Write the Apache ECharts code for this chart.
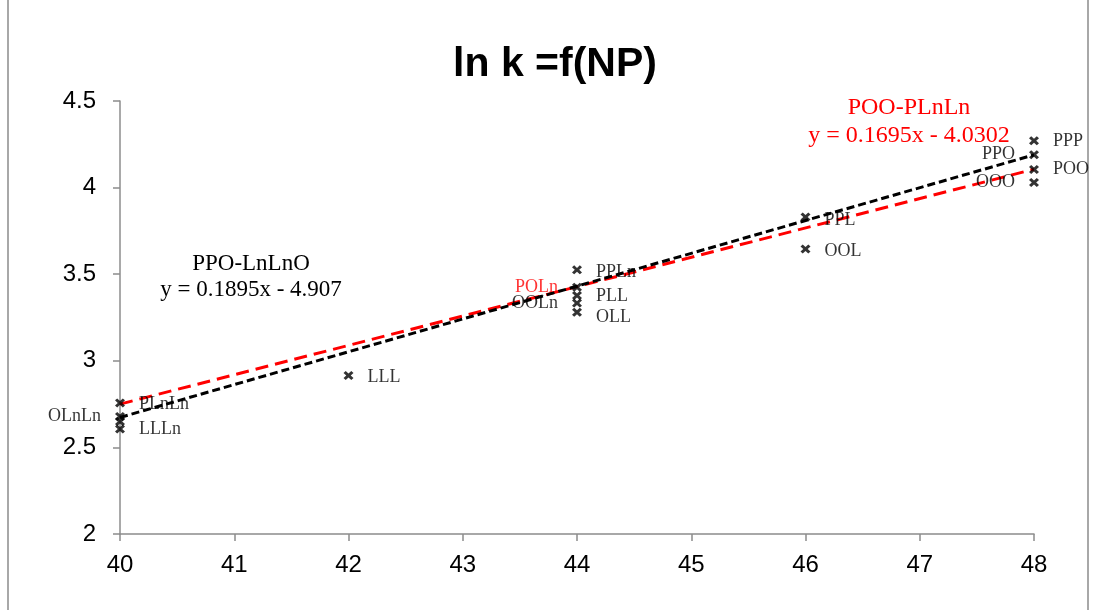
<!DOCTYPE html>
<html>
<head>
<meta charset="utf-8">
<script src="https://cdn.jsdelivr.net/npm/echarts@6/dist/echarts.min.js"></script>
<style>
html,body{margin:0;padding:0;background:#fff;}
#chart{width:1095px;height:610px;}
</style>
</head>
<body>
<div id="chart"></div>
<script>
// ---- data ----
var xTicks = [40, 41, 42, 43, 44, 45, 46, 47, 48];
var yTicks = [2, 2.5, 3, 3.5, 4, 4.5];

// TAG names, NP values and ln k values
var names  = ['PPP', 'PPO', 'POO', 'OOO', 'PPL', 'OOL', 'PPLn', 'POLn', 'PLL', 'OOLn', 'OLL', 'LLL', 'PLnLn', 'OLnLn', 'LnLnO', 'LLLn'];
var npVals = [48, 48, 48, 48, 46, 46, 44, 44, 44, 44, 44, 42, 40, 40, 40, 40];
var lnK    = [4.27, 4.19, 4.105, 4.03, 3.83, 3.646, 3.525, 3.425, 3.377, 3.333, 3.28, 2.915, 2.757, 2.678, 2.65, 2.606];
var labelSide = ['right', 'left', 'right', 'left', 'right', 'right', 'right', 'left', 'right', 'left', 'right', 'right', 'right', 'left', 'none', 'right'];
var labelRed  = [false, false, false, false, false, false, false, true, false, false, false, false, false, false, false, false];

// trend lines (endpoints at NP = 40 and 48)
var blackTrendX = [40, 48];
var blackTrendY = [2.673, 4.189];
var redTrendX = [40, 48];
var redTrendY = [2.750, 4.106];

var blackEqName = 'PPO-LnLnO';
var blackEq = 'y = 0.1895x - 4.907';
var redEqName = 'POO-PLnLn';
var redEq = 'y = 0.1695x - 4.0302';

// ---- build chart ----
var labelYOffset = [0, 0, 0, 0, 3, 2, 2, 0, 1, 0, 5, 2, 1, 0, 0, 0];
var scatterData = names.map(function (n, i) {
  var side = labelSide[i];
  var item = { value: [npVals[i], lnK[i]], name: n };
  if (side === 'none') {
    item.label = { show: false };
  } else {
    item.label = {
      show: true,
      position: side,
      distance: 14,
      offset: [0, labelYOffset[i]],
      color: labelRed[i] ? '#ff0000' : '#000000'
    };
  }
  return item;
});

var xMark = 'path://M0,2.2L2.2,0L5,2.8L7.8,0L10,2.2L7.2,5L10,7.8L7.8,10L5,7.2L2.2,10L0,7.8L2.8,5Z';

var chart = echarts.init(document.getElementById('chart'), null, { renderer: 'canvas' });
var serif = "'Liberation Serif', 'DejaVu Serif', serif";
var sans = "'Liberation Sans', 'DejaVu Sans', sans-serif";

chart.setOption({
  backgroundColor: '#ffffff',
  animation: false,
  title: {
    text: 'ln k =f(NP)',
    left: 550,
    textAlign: 'center',
    top: 39,
    textStyle: { fontFamily: sans, fontWeight: 'bold', fontSize: 41, color: '#000' }
  },
  grid: { left: 120, right: 61, top: 101, bottom: 76, containLabel: false },
  xAxis: {
    type: 'value',
    min: xTicks[0],
    max: xTicks[xTicks.length - 1],
    interval: xTicks[1] - xTicks[0],
    axisLine: { show: true, onZero: false, lineStyle: { color: '#8c8c8c', width: 1.5 } },
    axisTick: { show: true, length: 7, lineStyle: { color: '#8c8c8c', width: 1.5 } },
    axisLabel: { fontFamily: sans, fontSize: 24, color: '#000', margin: 19 },
    splitLine: { show: false }
  },
  yAxis: {
    type: 'value',
    min: yTicks[0],
    max: yTicks[yTicks.length - 1],
    interval: yTicks[1] - yTicks[0],
    axisLine: { show: true, onZero: false, lineStyle: { color: '#8c8c8c', width: 1.5 } },
    axisTick: { show: true, length: 7, lineStyle: { color: '#8c8c8c', width: 1.5 } },
    axisLabel: { fontFamily: sans, fontSize: 24, color: '#000', margin: 24 },
    splitLine: { show: false }
  },
  series: [
    {
      type: 'line',
      data: redTrendX.map(function (x, i) { return [x, redTrendY[i]]; }),
      symbol: 'none',
      lineStyle: { color: '#ff0000', width: 3, type: [13, 7] },
      z: 2
    },
    {
      type: 'line',
      data: blackTrendX.map(function (x, i) { return [x, blackTrendY[i]]; }),
      symbol: 'none',
      lineStyle: { color: '#000000', width: 3, type: [8, 4] },
      z: 3
    },
    {
      type: 'scatter',
      data: scatterData,
      symbol: xMark,
      symbolSize: [10, 9],
      itemStyle: { color: '#000000' },
      label: {
        formatter: function (p) { return p.name; },
        fontFamily: serif,
        fontSize: 18
      },
      z: 4
    }
  ],
  graphic: [
    {
      type: 'rect',
      shape: { x: 8, y: -5, width: 1080, height: 620 },
      style: { fill: 'none', stroke: '#8c8c8c', lineWidth: 1.5 },
      silent: true,
      z: -1
    },
    {
      type: 'text',
      x: 251, y: 251,
      style: {
        text: blackEqName + '\n' + blackEq,
        fontFamily: serif, fontSize: 23, lineHeight: 26,
        fill: '#000', align: 'center', verticalAlign: 'top'
      }
    },
    {
      type: 'text',
      x: 909, y: 94,
      style: {
        text: redEqName + '\n' + redEq,
        fontFamily: serif, fontSize: 24, lineHeight: 28,
        fill: '#ff0000', align: 'center', verticalAlign: 'top'
      }
    }
  ]
});
</script>
</body>
</html>
